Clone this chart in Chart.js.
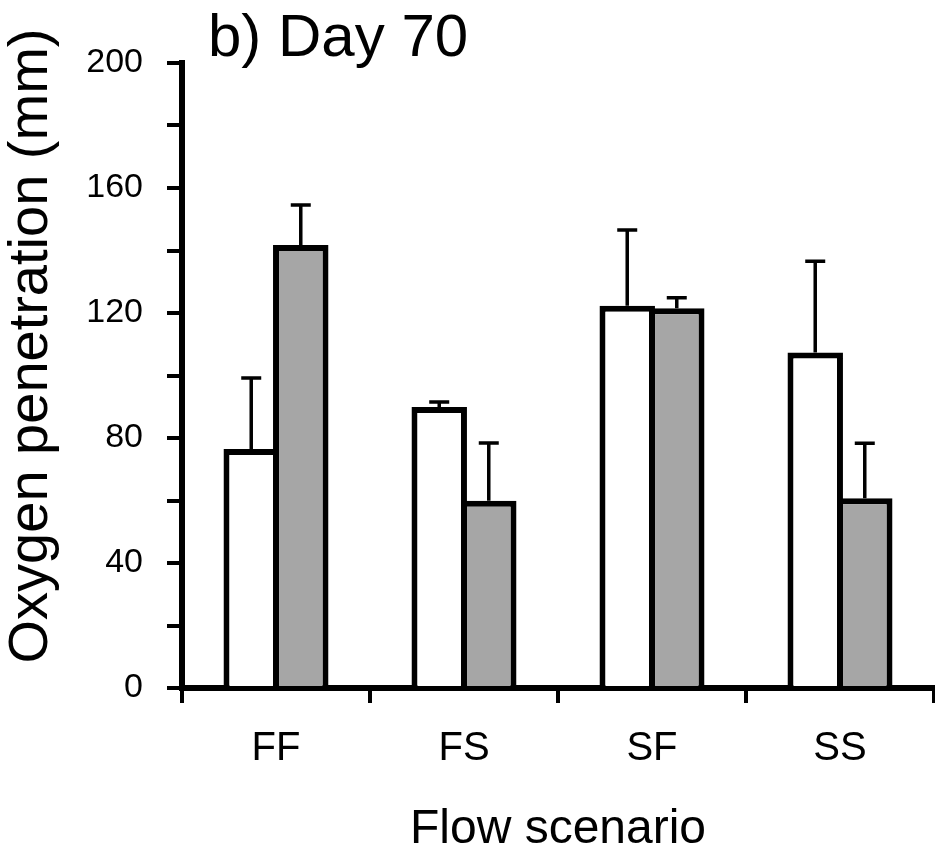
<!DOCTYPE html>
<html>
<head>
<meta charset="utf-8">
<script src="https://cdn.jsdelivr.net/npm/chart.js@4"></script>
<style>
  html, body { margin: 0; padding: 0; background: #fff; }
  #chart { display: block; }
</style>
</head>
<body>
<canvas id="chart" width="935" height="851"></canvas>
<script>
// data
const categories = ['FF', 'FS', 'SF', 'SS'];
const whiteValues = [76.5, 89.9, 122.3, 107.4];
const whiteErrors = [22.7, 1.6, 24.3, 29.2];
const greyValues = [141.8, 59.9, 121.5, 60.7];
const greyErrors = [12.8, 18.5, 3.4, 17.6];
const yTicks = [0, 40, 80, 120, 160, 200];

const chartTitle = 'b) Day 70';
const yTitle = 'Oxygen penetration (mm)';
const xTitle = 'Flow scenario';

const FONT = "'Liberation Sans', Arial, sans-serif";

// error bars (upper only) drawn over each bar
const errorBars = {
  id: 'errorBars',
  afterDatasetsDraw(chart) {
    const ctx = chart.ctx;
    const y = chart.scales.y;
    ctx.save();
    ctx.strokeStyle = '#000';
    ctx.lineWidth = 3.5;
    chart.data.datasets.forEach((ds, i) => {
      const meta = chart.getDatasetMeta(i);
      meta.data.forEach((bar, j) => {
        const top = y.getPixelForValue(ds.data[j] + ds.errors[j]);
        ctx.beginPath();
        ctx.moveTo(bar.x, bar.y);
        ctx.lineTo(bar.x, top);
        ctx.moveTo(bar.x - 10, top);
        ctx.lineTo(bar.x + 10, top);
        ctx.stroke();
      });
    });
    ctx.restore();
  }
};

// panel title and axis titles
const titles = {
  id: 'titles',
  afterDraw(chart) {
    const ctx = chart.ctx;
    const area = chart.chartArea;
    ctx.save();
    ctx.fillStyle = '#000';
    ctx.textBaseline = 'alphabetic';

    ctx.font = '60px ' + FONT;
    ctx.textAlign = 'left';
    ctx.fillText(chartTitle, 208, 56);

    ctx.font = '48px ' + FONT;
    ctx.textAlign = 'center';
    ctx.fillText(xTitle, (area.left + area.right) / 2, 843);

    ctx.translate(47, 346);
    ctx.rotate(-Math.PI / 2);
    ctx.font = '56px ' + FONT;
    ctx.fillText(yTitle, 0, 0);
    ctx.restore();
  }
};

new Chart(document.getElementById('chart'), {
  type: 'bar',
  data: {
    labels: categories,
    datasets: [
      {
        label: 'White',
        data: whiteValues,
        errors: whiteErrors,
        backgroundColor: '#ffffff',
        borderColor: '#000000',
        borderWidth: 6,
        categoryPercentage: 0.527,
        barPercentage: 1.12
      },
      {
        label: 'Grey',
        data: greyValues,
        errors: greyErrors,
        backgroundColor: '#a6a6a6',
        borderColor: '#000000',
        borderWidth: 6,
        categoryPercentage: 0.527,
        barPercentage: 1.12
      }
    ]
  },
  options: {
    responsive: false,
    animation: false,
    layout: { padding: { top: 63, right: 1, bottom: 0, left: 0 } },
    plugins: {
      legend: { display: false },
      tooltip: { enabled: false }
    },
    scales: {
      x: {
        afterFit: s => { s.height = 163; },
        grid: {
          offset: true,
          drawOnChartArea: false,
          tickLength: 15,
          lineWidth: 4,
          color: '#000'
        },
        border: { display: true, width: 6, color: '#000' },
        ticks: {
          color: '#000',
          padding: 22,
          font: { family: FONT, size: 40 }
        }
      },
      y: {
        min: 0,
        max: 200,
        afterFit: s => { s.width = 182; },
        grid: {
          drawOnChartArea: false,
          tickLength: 15,
          lineWidth: 4,
          color: '#000'
        },
        border: { display: true, width: 6, color: '#000' },
        ticks: {
          stepSize: 20,
          color: '#000',
          padding: 24,
          font: { family: FONT, size: 34 },
          callback: v => yTicks.includes(v) ? String(v) : ''
        }
      }
    }
  },
  plugins: [errorBars, titles]
});
</script>
</body>
</html>
